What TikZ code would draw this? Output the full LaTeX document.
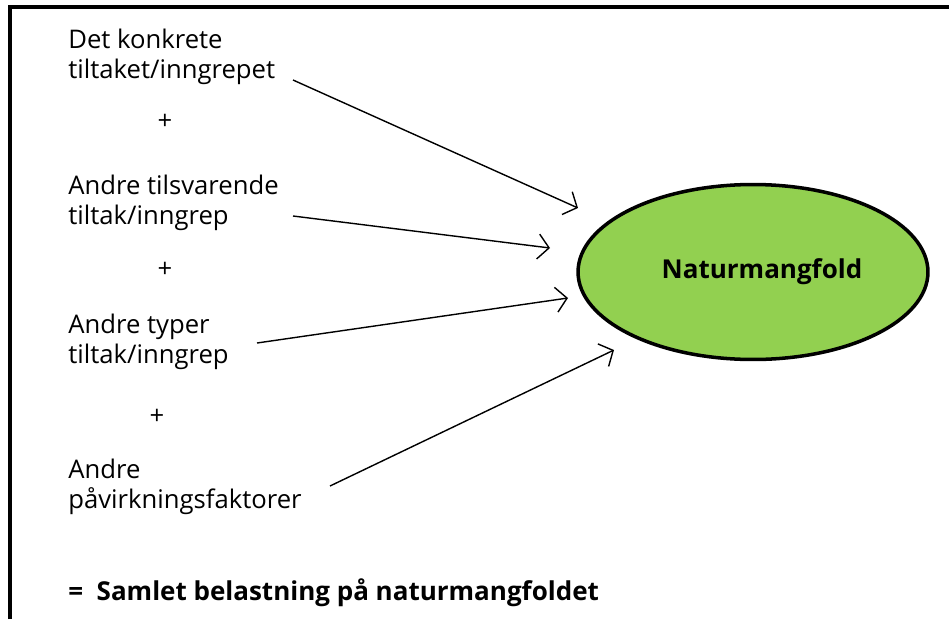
\documentclass[tikz,border=0pt]{standalone}
\usepackage{fontspec}
\setmainfont{Open Sans}
\usetikzlibrary{shapes.geometric,arrows.meta,positioning}
\definecolor{naturgronn}{HTML}{92D050}

\begin{document}
\begin{tikzpicture}[x=0.02cm,y=-0.02cm,
      >={Straight Barb[length=2.2mm,width=5mm]},
      every node/.style={font=\fontsize{14.6}{17}\selectfont},
      tekst/.style={anchor=base west,align=left,inner sep=0pt},
      pluss/.style={inner sep=0pt},
      pil/.style={->,line width=0.8pt},
      natur/.style={ellipse,draw,line width=2pt,fill=naturgronn,
        minimum width=7cm,minimum height=3.5cm,
        font=\fontsize{14.8}{17}\selectfont\bfseries}]
      \useasboundingbox (0,0) rectangle (949,619);
      \draw[line width=1.8pt] (10,619) -- (10,7) -- (949,7);
      \node[tekst] (d1) at (68,78) {Det konkrete\\tiltaket/inngrepet};
      \node[pluss] (p1) at (165,122) {+};
      \node[tekst] (d2) at (68,224) {Andre tilsvarende\\tiltak/inngrep};
      \node[pluss] (p2) at (165,270) {+};
      \node[tekst] (d3) at (68,363) {Andre typer\\tiltak/inngrep};
      \node[pluss] (p3) at (157,417) {+};
      \node[tekst] (d4) at (68,508) {Andre\\påvirkningsfaktorer};
      \node[tekst,font=\fontsize{14.8}{17}\selectfont\bfseries] (sum) at (68,600) {=\ \ Samlet belastning på naturmangfoldet};
      \node[natur] (nat) at (753,272) {\hspace{0.36cm}Naturmangfold};
      \coordinate (s1) at (293,80);  \coordinate (e1) at (578,208);
      \coordinate (s2) at (293,216); \coordinate (e2) at (550,248);
      \coordinate (s3) at (257,343); \coordinate (e3) at (568,298);
      \coordinate (s4) at (330,486); \coordinate (e4) at (614,350);
      \draw[pil] (s1) -- (e1);
      \draw[pil] (s2) -- (e2);
      \draw[pil] (s3) -- (e3);
      \draw[pil] (s4) -- (e4);
\end{tikzpicture}
\end{document}
